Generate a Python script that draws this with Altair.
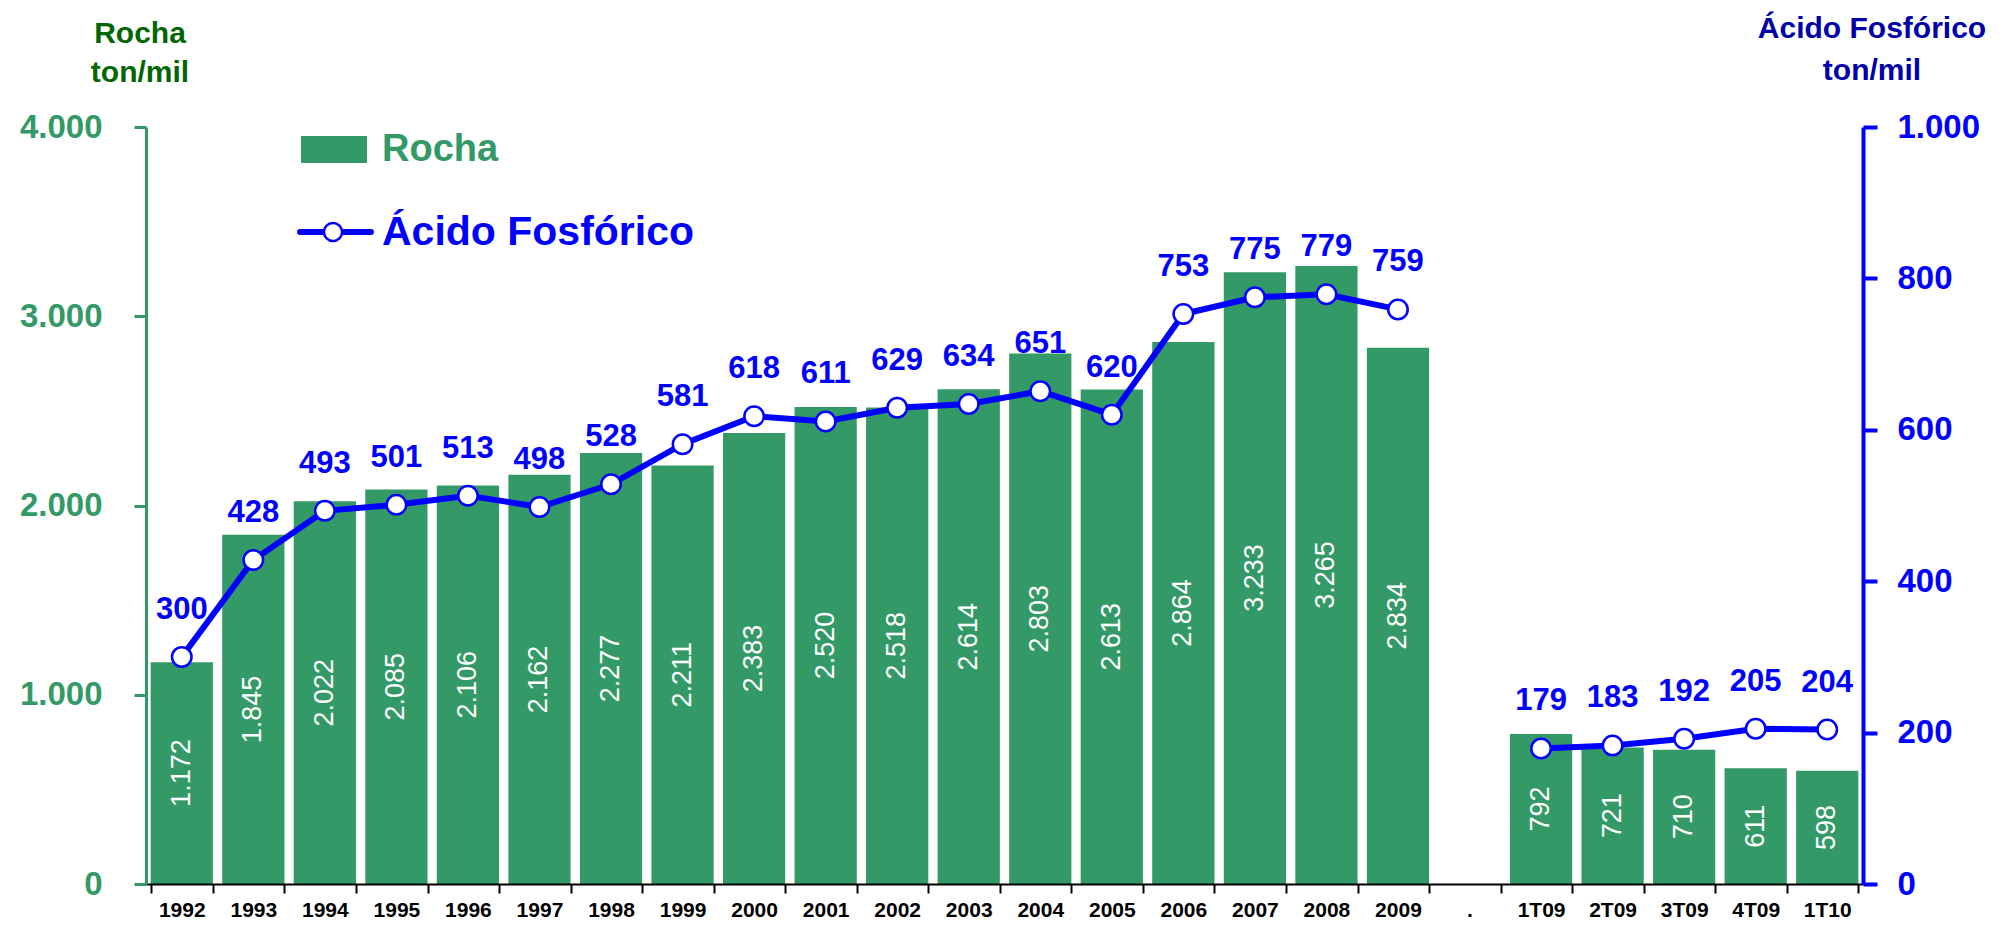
import altair as alt
import pandas as pd

# ---- data ----
periods = ["1992", "1993", "1994", "1995", "1996", "1997", "1998", "1999", "2000",
           "2001", "2002", "2003", "2004", "2005", "2006", "2007", "2008", "2009",
           "1T09", "2T09", "3T09", "4T09", "1T10"]
x_domain = periods[:18] + ["."] + periods[18:]
rocha = [1172, 1845, 2022, 2085, 2106, 2162, 2277, 2211, 2383, 2520, 2518, 2614,
         2803, 2613, 2864, 3233, 3265, 2834, 792, 721, 710, 611, 598]
acido = [300, 428, 493, 501, 513, 498, 528, 581, 618, 611, 629, 634, 651, 620,
         753, 775, 779, 759, 179, 183, 192, 205, 204]
segmento = ["Anual"] * 18 + ["Trimestral"] * 5
rocha_ticks = [0, 1000, 2000, 3000, 4000]
acido_ticks = [0, 200, 400, 600, 800, 1000]


def br(v):
    return f"{v:,}".replace(",", ".")


df = pd.DataFrame({"periodo": periods, "rocha": rocha, "acido": acido,
                   "segmento": segmento})
df["rocha_meio"] = df["rocha"] / 2
df["rocha_txt"] = df["rocha"].map(br)
df["acido_txt"] = df["acido"].map(br)

FONT = "Liberation Sans"
GREEN = "#339966"
DKGREEN = "#006600"
BLUE = "#0000FF"
DKBLUE = "#0000AA"
W, H = 1717, 757

base = alt.Chart(df)

x_scale = alt.Scale(domain=x_domain, paddingInner=0.13, paddingOuter=0.065)
x_axis = alt.Axis(title=None, labelAngle=0, labelFont=FONT, labelFontSize=21,
                  labelFontWeight="bold", labelColor="black", domainColor="black",
                  domainWidth=2, tickColor="black", tickWidth=2, tickSize=9,
                  tickBand="extent", labelPadding=6, grid=False, zindex=1)
X = alt.X("periodo:N", scale=x_scale, axis=x_axis)
label_expr = "replace(format(datum.value, ','), ',', '.')"

y_left = alt.Scale(domain=[0, 4000], nice=False, zero=True)
y_right = alt.Scale(domain=[0, 1000], nice=False, zero=True)

bars = base.mark_bar(color=GREEN).encode(
    x=X,
    y=alt.Y("rocha:Q", scale=y_left, axis=alt.Axis(
        values=rocha_ticks, labelExpr=label_expr, orient="left", grid=False,
        labelFont=FONT, labelFontSize=33, labelFontWeight="bold", labelColor=GREEN,
        domainColor=GREEN, domainWidth=3, tickColor=GREEN, tickWidth=3, tickSize=12,
        labelPadding=32, zindex=1, title=None)),
)

bar_text = base.mark_text(color="white", angle=270, font=FONT, fontSize=27,
                          baseline="middle", align="center").encode(
    x=X,
    y=alt.Y("rocha_meio:Q", scale=y_left, axis=None),
    text="rocha_txt:N",
)

line = base.mark_line(color=BLUE, strokeWidth=6).encode(
    x=X,
    y=alt.Y("acido:Q", scale=y_right, axis=alt.Axis(
        values=acido_ticks, labelExpr=label_expr, orient="right", grid=False,
        labelFont=FONT, labelFontSize=33, labelFontWeight="bold", labelColor=BLUE,
        domainColor=BLUE, domainWidth=4, tickColor=BLUE, tickWidth=4, tickSize=14,
        labelPadding=20, zindex=1, title=None)),
    detail="segmento:N",
)

points = base.mark_point(filled=True, fill="white", stroke=BLUE, strokeWidth=2.5,
                         size=380, opacity=1, shape="circle").encode(
    x=X,
    y=alt.Y("acido:Q", scale=y_right, axis=None),
)

point_text = base.mark_text(color=BLUE, font=FONT, fontSize=31, fontWeight="bold",
                            baseline="middle", align="center", dy=-47).encode(
    x=X,
    y=alt.Y("acido:Q", scale=y_right, axis=None),
    text="acido_txt:N",
)

one = alt.Data(values=[{"k": 1}])


def label(txt, x, y, color, size, align="center", baseline="alphabetic"):
    return alt.Chart(one).mark_text(
        text=txt, color=color, font=FONT, fontSize=size, fontWeight="bold",
        align=align, baseline=baseline).encode(x=alt.value(x), y=alt.value(y))


# axis titles (two lines each)
t_left1 = label("Rocha", -6, -84, DKGREEN, 30)
t_left2 = label("ton/mil", -6, -45, DKGREEN, 30)
t_right1 = label("Ácido Fosfórico", W + 9, -89, DKBLUE, 30)
t_right2 = label("ton/mil", W + 9, -47, DKBLUE, 30)

# legend
leg_rect = alt.Chart(one).mark_rect(color=GREEN).encode(
    x=alt.value(155), x2=alt.value(221), y=alt.value(9), y2=alt.value(36))
leg_rocha = label("Rocha", 236, 23, GREEN, 38, align="left", baseline="middle")
leg_rule = alt.Chart(one).mark_rule(color=BLUE, strokeWidth=6, strokeCap="round").encode(
    x=alt.value(154), x2=alt.value(225), y=alt.value(105))
leg_point = alt.Chart(one).mark_point(filled=True, fill="white", stroke=BLUE,
                                      strokeWidth=2.5, size=330, opacity=1,
                                      shape="circle").encode(
    x=alt.value(187), y=alt.value(105))
leg_acido = label("Ácido Fosfórico", 236, 106, BLUE, 41, align="left", baseline="middle")

chart = alt.layer(
    bars, bar_text, line, points, point_text,
    t_left1, t_left2, t_right1, t_right2,
    leg_rect, leg_rocha, leg_rule, leg_point, leg_acido
).resolve_scale(y="independent").properties(
    width=W, height=H,
    background="white",
    autosize=alt.AutoSizeParams(type="none"),
    padding={"left": 138, "top": 119, "right": 137, "bottom": 38},
).configure_view(stroke=None)

chart.save("out.html", embed_options={"renderer": "svg", "actions": False})
